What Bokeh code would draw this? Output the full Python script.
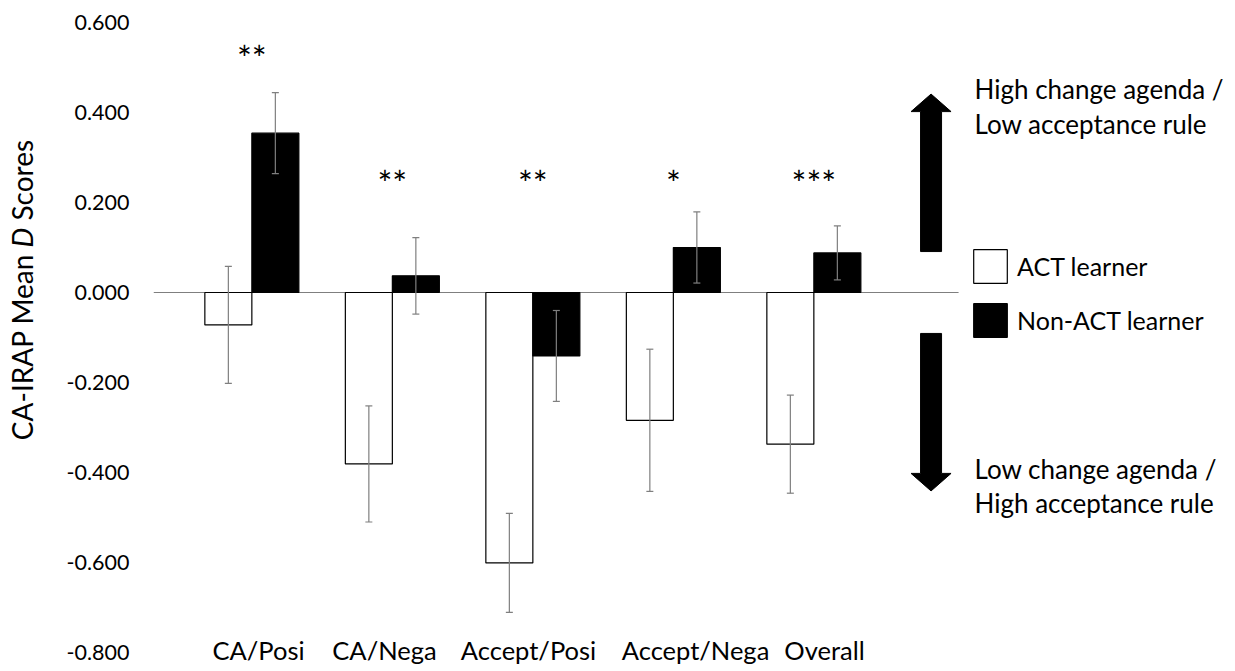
import numpy as np
from bokeh.plotting import figure
from bokeh.layouts import row
from bokeh.models import (Range1d, FixedTicker, NumeralTickFormatter, ColumnDataSource,
                          Whisker, TeeHead, Legend, LegendItem, Div)
from bokeh.core.properties import value
from bokeh.embed import file_html
from bokeh.resources import INLINE

# ---------------- data ----------------
categories = ["CA/Posi", "CA/Nega", "Accept/Posi", "Accept/Nega", "Overall"]
act_mean = [-0.072, -0.381, -0.601, -0.284, -0.337]
act_err = [0.130, 0.129, 0.110, 0.158, 0.109]
non_mean = [0.354, 0.037, -0.141, 0.100, 0.088]
non_err = [0.090, 0.085, 0.101, 0.079, 0.060]
sig_labels = ["**", "**", "**", "*", "***"]
sig_y = [0.537, 0.259, 0.259, 0.259, 0.259]
y_ticks = [-0.8, -0.6, -0.4, -0.2, 0.0, 0.2, 0.4, 0.6]
series_names = ["ACT learner", "Non-ACT learner"]
upper_note = ["High change agenda /", "Low acceptance rule"]
lower_note = ["Low change agenda /", "High acceptance rule"]
y_title = ["CA-IRAP Mean ", "D", " Scores"]

# ---------------- layout ----------------
FONT = "Lato"
TOTAL_W, H = 1235, 671
DIV_W = 50
W = TOTAL_W - DIV_W
LEFT, TOP, BOTTOM = 153 - DIV_W, 22, 19
PX_PER_CAT = 140.5
X_START = -0.70
frame_w = W - LEFT
BW = 47 / PX_PER_CAT
GRAY = "#7f7f7f"
# category label placement (label text boxes are nudged as in the original figure)
LABEL_SHIFT = [0.048, -0.056, -0.031, 0.158, 0.076]

p = figure(width=W, height=H,
           x_range=Range1d(X_START, X_START + frame_w / PX_PER_CAT),
           y_range=Range1d(-0.8, 0.6),
           output_backend="svg", toolbar_location=None,
           min_border_left=LEFT, min_border_right=0,
           min_border_top=TOP, min_border_bottom=BOTTOM)
p.outline_line_color = None
p.xgrid.visible = False
p.ygrid.visible = False
p.background_fill_color = "white"

xs = np.arange(len(categories))
label_pos = [round(float(i + s), 3) for i, s in zip(xs, LABEL_SHIFT)]

# axes
p.yaxis.ticker = FixedTicker(ticks=y_ticks, minor_ticks=[])
p.yaxis.formatter = NumeralTickFormatter(format="0.000")
p.xaxis.ticker = FixedTicker(ticks=label_pos, minor_ticks=[])
p.xaxis.major_label_overrides = {lp: c for lp, c in zip(label_pos, categories)}
for ax in (p.xaxis, p.yaxis):
    ax.axis_line_color = None
    ax.major_tick_line_color = None
    ax.minor_tick_line_color = None
    ax.major_tick_out = 0
    ax.major_tick_in = 0
    ax.major_label_text_font = FONT
    ax.major_label_text_color = "black"
p.yaxis.major_label_text_font_size = "21.5px"
p.yaxis.major_label_standoff = 24
p.xaxis.major_label_text_font_size = "25.5px"
p.xaxis.major_label_standoff = -18

AXIS_END = 5.03

# zero line (category axis)
p.segment(x0=[X_START], y0=[0], x1=[AXIS_END], y1=[0], line_color=GRAY, line_width=1.2)

src_act = ColumnDataSource(dict(x=xs - BW / 2, top=act_mean,
                                upper=np.array(act_mean) + np.array(act_err),
                                lower=np.array(act_mean) - np.array(act_err)))
src_non = ColumnDataSource(dict(x=xs + BW / 2, top=non_mean,
                                upper=np.array(non_mean) + np.array(non_err),
                                lower=np.array(non_mean) - np.array(non_err)))

r_act = p.vbar(x="x", top="top", bottom=0, width=BW, source=src_act,
               fill_color="white", line_color="black", line_width=1.2)
r_non = p.vbar(x="x", top="top", bottom=0, width=BW, source=src_non,
               fill_color="black", line_color="black", line_width=1.2)

for src in (src_act, src_non):
    w = Whisker(source=src, base="x", upper="upper", lower="lower",
                line_color=GRAY, line_width=1.2, level="annotation",
                upper_head=TeeHead(size=7, line_color=GRAY, line_width=1.2),
                lower_head=TeeHead(size=7, line_color=GRAY, line_width=1.2))
    p.add_layout(w)

# significance stars
p.text(x=xs, y=sig_y, text=sig_labels, text_font=value(FONT), text_font_size="35px",
       text_align="center", text_baseline="alphabetic", y_offset=6, text_color="black")

# direction arrows
AX = (930.5 - 251.3) / PX_PER_CAT
SHAFT = 10.5 / PX_PER_CAT
HEAD = 20 / PX_PER_CAT
for sgn in (1, -1):
    base, hb, tip = 0.091 * sgn, 0.402 * sgn, 0.441 * sgn
    p.patch(x=[AX - SHAFT, AX + SHAFT, AX + SHAFT, AX + HEAD, AX, AX - HEAD, AX - SHAFT],
            y=[base, base, hb, hb, tip, hb, hb],
            fill_color="black", line_color="black", line_width=1)

TX = (974 - 251.3) / PX_PER_CAT
p.text(x=[TX, TX], y=[0.452, 0.375], text=upper_note, text_font=value(FONT),
       text_font_size="26px", text_align="left", text_baseline="middle", text_color="black")
p.text(x=[TX, TX], y=[-0.392, -0.467], text=lower_note, text_font=value(FONT),
       text_font_size="26px", text_align="left", text_baseline="middle", text_color="black")

# legend
legend = Legend(items=[LegendItem(label=series_names[0], renderers=[r_act]),
                       LegendItem(label=series_names[1], renderers=[r_non])],
                location=(816, 311), orientation="vertical",
                glyph_width=42, glyph_height=42, spacing=12, label_standoff=6,
                padding=0, margin=0, border_line_color=None, background_fill_alpha=0,
                label_text_font=FONT, label_text_font_size="25px", label_text_color="black")
p.add_layout(legend)

# y-axis title (with italic D) as rotated HTML text beside the figure
title_html = (
    '<div style="position:relative;width:%dpx;height:%dpx;">'
    '<div style="position:absolute;left:8px;top:290px;transform:translateY(-50%%) rotate(180deg);'
    'writing-mode:vertical-rl;white-space:nowrap;font-family:Lato;font-size:28px;'
    'line-height:28px;color:black;">%s<i>%s</i>%s</div></div>'
    % (DIV_W, H, y_title[0].replace(" ", "&nbsp;"), y_title[1], y_title[2].replace(" ", "&nbsp;"))
)
title_div = Div(text=title_html, width=DIV_W, height=H, margin=0)

layout = row(title_div, p, spacing=0)
open("out.html", "w").write(file_html(layout, INLINE))
